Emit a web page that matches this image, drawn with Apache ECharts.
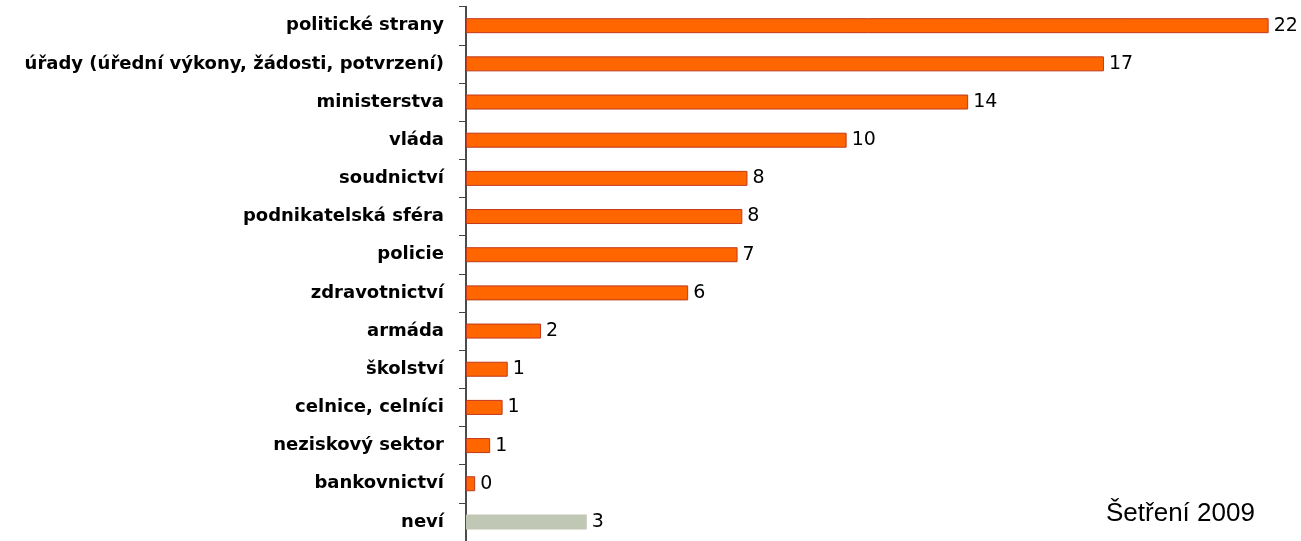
<!DOCTYPE html>
<html><head><meta charset="utf-8">
<script src="https://cdn.jsdelivr.net/npm/echarts@6/dist/echarts.min.js"></script>
<style>html,body{margin:0;padding:0;background:#fff}#c{width:1301px;height:541px}</style>
</head><body><div id="c"></div>
<script>
const categories = ["politické strany","úřady (úřední výkony, žádosti, potvrzení)","ministerstva","vláda","soudnictví","podnikatelská sféra","policie","zdravotnictví","armáda","školství","celnice, celníci","neziskový sektor","bankovnictví","neví"];
const values = [21.93,17.43,13.72,10.40,7.69,7.55,7.42,6.07,2.05,1.14,1.00,0.66,0.25,3.30];
const greyCategories = ["neví"];
const noteText = "Šetření 2009";

const chart = echarts.init(document.getElementById('c'), null, {renderer:'canvas'});
chart.setOption({
  animation:false,
  title:{text:noteText,left:1101,top:496,textStyle:{fontFamily:'Liberation Sans',fontSize:26,fontWeight:'normal',color:'#000'}},
  grid:{left:466,top:6.6,height:537.3,right:11.5},
  xAxis:{type:'value',min:0,max:22.5,show:false},
  yAxis:{type:'category',inverse:true,data:categories,
    axisLine:{show:true,lineStyle:{color:'#111',width:1.5}},
    axisTick:{show:true,length:7,lineStyle:{color:'#444',width:1}},
    axisLabel:{margin:22,fontFamily:'DejaVu Sans',fontWeight:'bold',fontSize:18,color:'#000'}
  },
  series:[{type:'bar',barWidth:15,
    data:values.map((v,i)=>greyCategories.includes(categories[i])
      ? {value:v,itemStyle:{color:'#C0C7B4',borderWidth:0}}
      : {value:v}),
    itemStyle:{color:'#FF6600',borderColor:'#C0391B',borderWidth:1},
    label:{show:true,position:'right',distance:5,fontFamily:'DejaVu Sans',fontSize:19,color:'#000',
      formatter:p=>Math.round(p.value)}
  }]
});
</script></body></html>
